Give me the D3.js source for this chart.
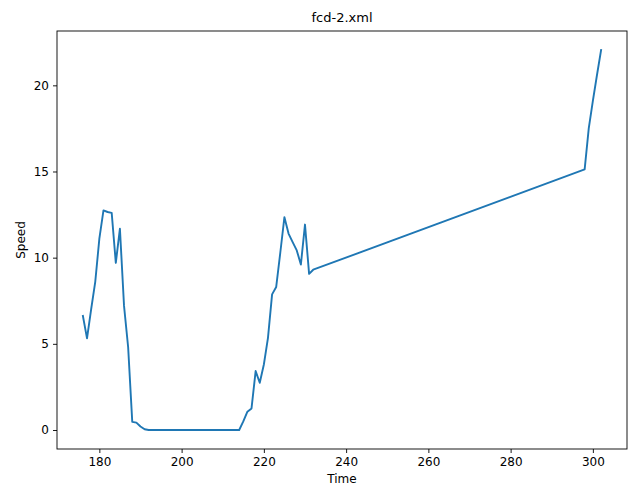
<!DOCTYPE html>
<html>
<head>
<meta charset="utf-8">
<script src="https://cdn.jsdelivr.net/npm/d3@7"></script>
<style>
  body { margin: 0; background: #fff; }
  svg text { font-family: "DejaVu Sans", sans-serif; fill: #000; }
</style>
</head>
<body>
<div id="chart"></div>
<script>
// Data: time (s) and speed
let times = [176, 177, 178, 179, 180, 181, 182, 183, 184, 185,
  186, 187, 188, 189, 190, 191, 192, 193, 194, 195,
  196, 197, 198, 199, 200, 201, 202, 203, 204, 205,
  206, 207, 208, 209, 210, 211, 212, 213, 214, 215,
  216, 217, 218, 219, 220, 221, 222, 223, 224, 225,
  226, 227, 228, 229, 230, 231, 232,
  298, 299, 300, 301, 302];
let speeds = [6.62, 5.32, 7.0, 8.6, 11.1, 12.74, 12.65, 12.6, 9.7, 11.68,
  7.2, 4.8, 0.47, 0.43, 0.2, 0.04, 0, 0, 0, 0,
  0, 0, 0, 0, 0, 0, 0, 0, 0, 0,
  0, 0, 0, 0, 0, 0, 0, 0, 0, 0.5,
  1.06, 1.25, 3.42, 2.74, 3.8, 5.35, 7.87, 8.3, 10.3, 12.35,
  11.4, 10.9, 10.42, 9.6, 11.92, 9.06, 9.3,
  15.12, 17.5, 19.1, 20.6, 22.05];
let xTicks = [180, 200, 220, 240, 260, 280, 300];
let yTicks = [0, 5, 10, 15, 20];

let svgWidth = 639;
let svgHeight = 487;
let margin = { top: 31, right: 12, bottom: 38, left: 57 };
let width = svgWidth - margin.left - margin.right;
let height = svgHeight - margin.top - margin.bottom;

let svg = d3.select("#chart")
  .append("svg")
  .attr("width", svgWidth)
  .attr("height", svgHeight);

let chartGroup = svg.append("g")
  .attr("transform", `translate(${margin.left}, ${margin.top})`);

let data = times.map((t, i) => ({ t: t, v: speeds[i] }));

// matplotlib style 5% margins
let xMin = d3.min(times), xMax = d3.max(times);
let yMin = d3.min(speeds), yMax = d3.max(speeds);
let xPad = (xMax - xMin) * 0.05, yPad = (yMax - yMin) * 0.05;

let xScale = d3.scaleLinear()
  .domain([xMin - xPad, xMax + xPad])
  .range([0, width]);
let yScale = d3.scaleLinear()
  .domain([yMin - yPad, yMax + yPad])
  .range([height, 0]);

let bottomAxis = d3.axisBottom(xScale).tickValues(xTicks).tickSize(4).tickPadding(4);
let leftAxis = d3.axisLeft(yScale).tickValues(yTicks).tickSize(4).tickPadding(4);

let gx = chartGroup.append("g")
  .attr("transform", `translate(0, ${height})`)
  .call(bottomAxis);
let gy = chartGroup.append("g")
  .call(leftAxis);

[gx, gy].forEach(g => {
  g.select(".domain").remove();
  g.selectAll("line").attr("stroke", "#000").attr("stroke-width", 0.9);
  g.selectAll("text").style("font-size", "12px").attr("fill", "#000");
});

// Line
let line = d3.line()
  .x(d => xScale(d.t))
  .y(d => yScale(d.v));

chartGroup.append("path")
  .datum(data)
  .attr("fill", "none")
  .attr("stroke", "#1f77b4")
  .attr("stroke-width", 1.9)
  .attr("stroke-linejoin", "round")
  .attr("stroke-linecap", "square")
  .attr("d", line);

// Frame
chartGroup.append("rect")
  .attr("x", 0)
  .attr("y", 0)
  .attr("width", width)
  .attr("height", height)
  .attr("fill", "none")
  .attr("stroke", "#000")
  .attr("stroke-width", 0.9);

// Title and axis labels
svg.append("text")
  .attr("x", margin.left + width / 2)
  .attr("y", 22)
  .attr("text-anchor", "middle")
  .style("font-size", "13px")
  .text("fcd-2.xml");

svg.append("text")
  .attr("x", margin.left + width / 2)
  .attr("y", 483)
  .attr("text-anchor", "middle")
  .style("font-size", "12px")
  .text("Time");

svg.append("text")
  .attr("transform", `translate(25, ${margin.top + height / 2}) rotate(-90)`)
  .attr("text-anchor", "middle")
  .style("font-size", "12px")
  .text("Speed");
</script>
</body>
</html>
